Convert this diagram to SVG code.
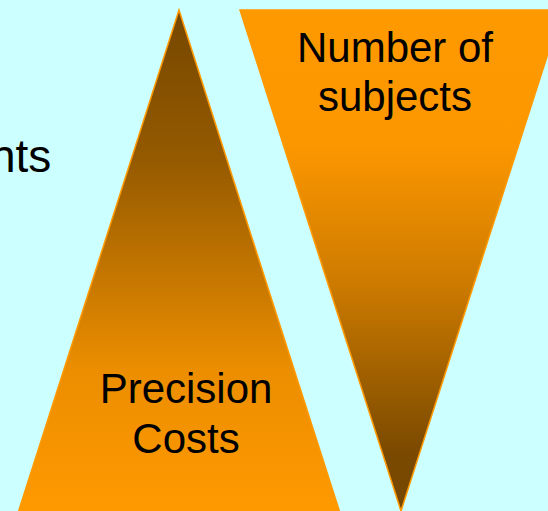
<svg xmlns="http://www.w3.org/2000/svg" width="548" height="511" viewBox="0 0 548 511">
  <defs>
    <linearGradient id="gUp" gradientUnits="userSpaceOnUse" x1="0" y1="10" x2="0" y2="511">
      <stop offset="0" stop-color="#754700"/>
      <stop offset="0.3" stop-color="#955A00"/>
      <stop offset="0.72" stop-color="#EC8E00"/>
      <stop offset="1" stop-color="#FF9900"/>
    </linearGradient>
    <linearGradient id="gDown" gradientUnits="userSpaceOnUse" x1="0" y1="10" x2="0" y2="511">
      <stop offset="0" stop-color="#FF9900"/>
      <stop offset="0.27" stop-color="#FC9700"/>
      <stop offset="0.55" stop-color="#CC7A00"/>
      <stop offset="0.88" stop-color="#7B4A00"/>
      <stop offset="1" stop-color="#754700"/>
    </linearGradient>
    <style>
      .lbl { font-family: "Liberation Sans", Arial, sans-serif; font-size: 42px; fill: #000000; text-anchor: middle; }
      .tri { stroke: #FF9900; stroke-width: 1.5; stroke-linejoin: miter; }
    </style>
  </defs>
  <rect x="0" y="0" width="548" height="511" fill="#CCFFFF"/>
  <text x="-10" y="172" style="font-family: 'Liberation Sans', Arial, sans-serif; font-size: 46px; fill: #000000;">nts</text>
  <g id="precision-costs">
    <polygon class="tri" points="179,10 340,513 18,513" fill="url(#gUp)"/>
    <text class="lbl" x="186" y="403">Precision</text>
    <text class="lbl" x="186" y="453">Costs</text>
  </g>
  <g id="number-of-subjects">
    <polygon class="tri" points="240,10 562,10 401,511" fill="url(#gDown)"/>
    <text class="lbl" x="395" y="62">Number of</text>
    <text class="lbl" x="395" y="111">subjects</text>
  </g>
</svg>
